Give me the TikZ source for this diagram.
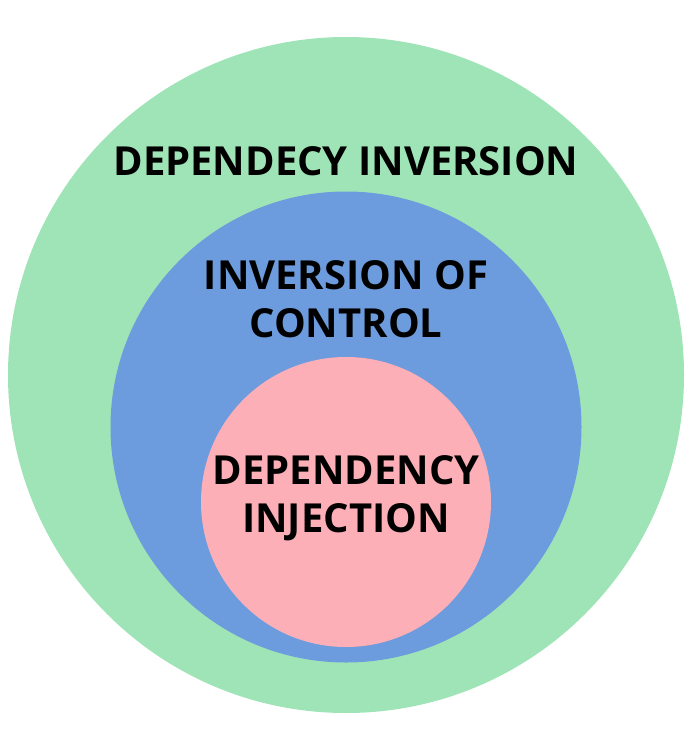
\documentclass[tikz,border=0pt]{standalone}
\usepackage{fontspec}
\setmainfont{Open Sans}
\definecolor{cg}{HTML}{9FE4B6}
\definecolor{cb}{HTML}{6C9CDE}
\definecolor{cp}{HTML}{FDAFB7}
\begin{document}
\begin{tikzpicture}[x=1pt,y=-1pt,
  ring/.style={circle,minimum size=#1,inner sep=0pt},
  lbl/.style={font=\bfseries\fontsize{40}{48}\selectfont,align=center,text=black}]
\useasboundingbox (0,0) rectangle (694,742);
\node[ring=676pt,fill=cg] (outer) at (346,375) {};
\node[ring=471pt,fill=cb] (mid) at (346,427) {};
\node[ring=290pt,fill=cp] (inner) at (346,502) {};
\node[lbl] (t1) at (346,161) {DEPENDECY INVERSION};
\node[lbl] (t2) at (346,299) {INVERSION OF\\CONTROL};
\node[lbl] (t3) at (346,498) {DEPENDENCY\\INJECTION};
\end{tikzpicture}
\end{document}
